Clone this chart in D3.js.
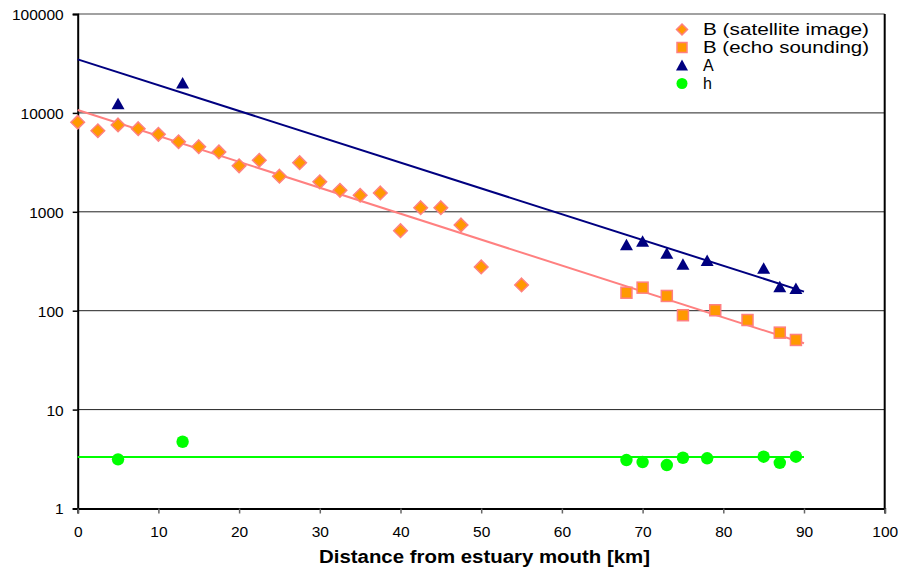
<!DOCTYPE html>
<html><head><meta charset="utf-8">
<script src="https://cdn.jsdelivr.net/npm/d3@7"></script>
<style>body{margin:0;background:#fff}svg{display:block}text{font-family:"Liberation Sans",Arial,sans-serif}</style>
</head><body>
<svg id="c" width="898" height="570"></svg>
<script>
// ---- data ----
const satX = [0,2.5,5,7.5,10,12.5,15,17.5,20,22.5,25,27.5,30,32.5,35,37.5,40,42.5,45,47.5,50,55];
const satB = [8050,6600,7550,6920,6080,5110,4550,4030,2920,3320,2290,3140,2010,1650,1470,1550,644,1100,1100,736,277,182];
const echoX = [68,70,73,75,79,83,87,89];
const echoB = [152,171,141,90,101,80.5,60,50.6];
const aX = [5,13,68,70,73,75,78,85,87,89];
const aVals = [12400,20100,465,504,380,295,322,268,175,168];
const hX = [5,13,68,70,73,75,78,85,87,89];
const hVals = [3.14,4.73,3.09,2.95,2.75,3.26,3.22,3.34,2.90,3.34];
const trendBX = [0,90], trendBY = [10700,46.8];
const trendAX = [0,90], trendAY = [34800,156];
const trendHX = [0,90], trendHY = [3.32,3.32];
const xTicks = [0,10,20,30,40,50,60,70,80,90,100];
const yTicks = [1,10,100,1000,10000,100000];
const legendLabels = ["B (satellite image)","B (echo sounding)","A","h"];
const xTitle = "Distance from estuary mouth [km]";

// ---- drawing ----
const svg = d3.select("#c");
const x = d3.scaleLinear().domain([0,100]).range([77.7,884.7]);
const y = d3.scaleLog().domain([1,100000]).range([508.5,14]);
const L = x.range()[0], R = x.range()[1], T = y.range()[1], B = y.range()[0];

// gridlines
svg.append("g").selectAll("line").data(yTicks.filter(d=>d>1&&d<100000)).join("line")
  .attr("x1",L).attr("x2",R).attr("y1",d=>y(d)).attr("y2",d=>y(d))
  .attr("stroke","#222").attr("stroke-width",1);
// top/right border
svg.append("line").attr("x1",L).attr("x2",R).attr("y1",T).attr("y2",T).attr("stroke","#444").attr("stroke-width",1.2);
svg.append("line").attr("x1",R).attr("x2",R).attr("y1",T).attr("y2",B).attr("stroke","#000").attr("stroke-width",2);

// axes
const yAxis = d3.axisLeft(y).tickValues(yTicks).tickFormat(d3.format("d")).tickSize(5).tickPadding(9);
const gy = svg.append("g").attr("transform",`translate(${L},0)`).call(yAxis);
gy.select(".domain").attr("stroke","#000").attr("stroke-width",2);
gy.selectAll(".tick line").attr("stroke","#000").attr("stroke-width",1.5);
gy.selectAll("text").attr("font-size","15.5px").attr("fill","#000").attr("dy","0.35em");

const xAxis = d3.axisBottom(x).tickValues(xTicks).tickSize(5).tickPadding(12);
const gx = svg.append("g").attr("transform",`translate(0,${B})`).call(xAxis);
gx.select(".domain").attr("stroke","#000").attr("stroke-width",2);
gx.selectAll(".tick line").attr("stroke","#666").attr("stroke-width",1.5);
gx.selectAll("text").attr("font-size","15.5px").attr("fill","#000");

svg.append("text").attr("x",484.5).attr("y",563).attr("text-anchor","middle")
  .attr("font-size","18px").attr("font-weight","bold").attr("textLength",331).attr("lengthAdjust","spacingAndGlyphs")
  .text(xTitle);

// trendlines
const line = d3.line().x(d=>x(d[0])).y(d=>y(d[1]));
function trend(xs,ys,col,w){
  svg.append("path").datum(xs.map((v,i)=>[v,ys[i]])).attr("d",line)
    .attr("fill","none").attr("stroke",col).attr("stroke-width",w);
}
trend(trendBX,trendBY,"#FF8080",2);
trend(trendAX,trendAY,"#000080",2);
trend(trendHX,trendHY,"#00FF00",2);

// markers
const diamond = (cx,cy,s)=>`M${cx},${cy-s}L${cx+s},${cy}L${cx},${cy+s}L${cx-s},${cy}Z`;
const tri = (cx,cy)=>`M${cx},${cy-6}L${cx+6.5},${cy+5.5}L${cx-6.5},${cy+5.5}Z`;
svg.append("g").selectAll("path").data(satX.map((v,i)=>[v,satB[i]])).join("path")
  .attr("d",d=>diamond(x(d[0]),y(d[1]),6.8)).attr("fill","#FF9900").attr("stroke","#FF8080").attr("stroke-width",1.5);
svg.append("g").selectAll("rect").data(echoX.map((v,i)=>[v,echoB[i]])).join("rect")
  .attr("x",d=>x(d[0])-5.5).attr("y",d=>y(d[1])-5.5).attr("width",11).attr("height",11)
  .attr("fill","#FF9900").attr("stroke","#FF8080").attr("stroke-width",1.5);
svg.append("g").selectAll("path").data(aX.map((v,i)=>[v,aVals[i]])).join("path")
  .attr("d",d=>tri(x(d[0]),y(d[1]))).attr("fill","#000080");
svg.append("g").selectAll("circle").data(hX.map((v,i)=>[v,hVals[i]])).join("circle")
  .attr("cx",d=>x(d[0])).attr("cy",d=>y(d[1])).attr("r",6.2).attr("fill","#00FF00");

// legend
const lg = svg.append("g");
const mx = 682;
const my = [29.5,47.5,65.5,83.5];
const ty = [35,53,71,89];
const tw = [166,166,12,9];
lg.append("path").attr("d",diamond(mx,my[0],5.5)).attr("fill","#FF9900").attr("stroke","#FF8080").attr("stroke-width",1.5);
lg.append("rect").attr("x",mx-5).attr("y",my[1]-5).attr("width",10).attr("height",10).attr("fill","#FF9900").attr("stroke","#FF8080").attr("stroke-width",1.5);
lg.append("path").attr("d",`M${mx},${my[2]-6}L${mx+6},${my[2]+5}L${mx-6},${my[2]+5}Z`).attr("fill","#000080");
lg.append("circle").attr("cx",mx).attr("cy",my[3]).attr("r",5.5).attr("fill","#00FF00");
legendLabels.forEach((t,i)=>{
  const el = lg.append("text").attr("x",703).attr("y",ty[i]).attr("font-size","16px").attr("fill","#000").text(t);
  if(i<2) el.attr("textLength",tw[i]).attr("lengthAdjust","spacingAndGlyphs");
});
</script>
</body></html>
